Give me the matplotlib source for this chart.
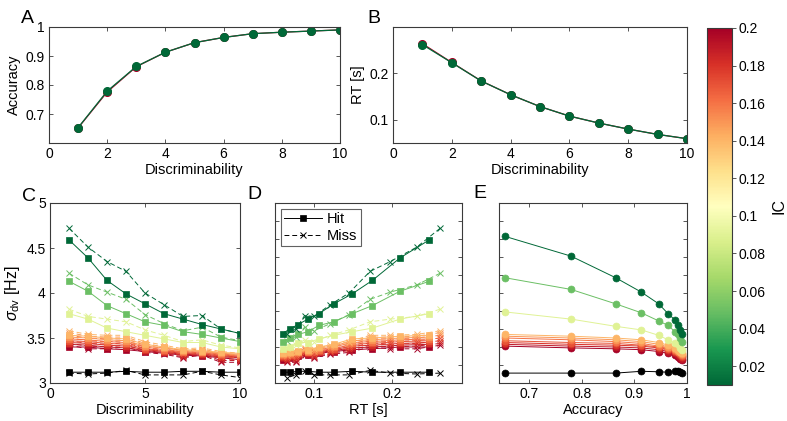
import matplotlib
matplotlib.use("Agg")
import matplotlib.pyplot as plt
import numpy as np
from matplotlib import cm, colors

plt.rcParams['font.family'] = ['Liberation Sans', 'DejaVu Sans']
plt.rcParams['mathtext.fontset'] = 'custom'
plt.rcParams['mathtext.rm'] = 'Liberation Sans'
plt.rcParams['mathtext.it'] = 'Liberation Sans:italic'

# ---------------- data ----------------
discriminability = [1, 2, 3, 4, 5, 6, 7, 8, 9, 10]
accuracy = [0.653, 0.779, 0.864, 0.913, 0.946, 0.964, 0.977, 0.982, 0.986, 0.990]
accuracy_high_ic = [0.652, 0.776, 0.863, 0.913, 0.946, 0.964, 0.977, 0.982, 0.986, 0.990]
rt = [0.262, 0.223, 0.1835, 0.154, 0.1285, 0.108, 0.093, 0.080, 0.0685, 0.0593]
rt_high_ic = [0.264, 0.2235, 0.1838, 0.154, 0.1285, 0.108, 0.093, 0.080, 0.0685, 0.0593]
rt_hit = [0.248, 0.2105, 0.175, 0.149, 0.1255, 0.1064, 0.0923, 0.0796, 0.069, 0.0597]
rt_miss = [0.262, 0.232, 0.198, 0.172, 0.145, 0.121, 0.100, 0.088, 0.077, 0.066]

ic_values = [0.01, 0.05, 0.09, 0.14, 0.15, 0.16, 0.17, 0.18, 0.19, 0.20]

sigma_hit = [
    [4.59, 4.39, 4.14, 3.99, 3.88, 3.77, 3.71, 3.65, 3.60, 3.55],
    [4.13, 4.02, 3.86, 3.77, 3.68, 3.64, 3.57, 3.54, 3.50, 3.46],
    [3.77, 3.71, 3.61, 3.57, 3.53, 3.49, 3.45, 3.45, 3.40, 3.38],
    [3.53, 3.52, 3.50, 3.49, 3.43, 3.40, 3.37, 3.36, 3.34, 3.33],
    [3.51, 3.50, 3.48, 3.47, 3.41, 3.39, 3.36, 3.35, 3.33, 3.32],
    [3.49, 3.48, 3.46, 3.45, 3.40, 3.37, 3.35, 3.34, 3.32, 3.31],
    [3.47, 3.46, 3.44, 3.43, 3.38, 3.36, 3.34, 3.33, 3.31, 3.30],
    [3.45, 3.44, 3.42, 3.41, 3.37, 3.35, 3.33, 3.32, 3.30, 3.29],
    [3.43, 3.42, 3.40, 3.39, 3.36, 3.34, 3.32, 3.31, 3.29, 3.28],
    [3.40, 3.40, 3.38, 3.37, 3.35, 3.33, 3.31, 3.30, 3.28, 3.26],
]
sigma_miss = [
    [4.72, 4.51, 4.35, 4.24, 4.00, 3.87, 3.74, 3.75, 3.60, 3.55],
    [4.22, 4.09, 4.01, 3.93, 3.76, 3.66, 3.58, 3.62, 3.51, 3.47],
    [3.82, 3.74, 3.71, 3.68, 3.59, 3.53, 3.46, 3.48, 3.42, 3.39],
    [3.58, 3.54, 3.53, 3.53, 3.46, 3.42, 3.38, 3.39, 3.35, 3.33],
    [3.56, 3.52, 3.51, 3.51, 3.44, 3.40, 3.36, 3.38, 3.33, 3.31],
    [3.53, 3.50, 3.49, 3.49, 3.42, 3.38, 3.34, 3.37, 3.31, 3.30],
    [3.50, 3.47, 3.46, 3.47, 3.40, 3.36, 3.32, 3.35, 3.29, 3.28],
    [3.47, 3.44, 3.43, 3.45, 3.38, 3.35, 3.30, 3.34, 3.27, 3.26],
    [3.44, 3.41, 3.40, 3.42, 3.36, 3.33, 3.29, 3.32, 3.25, 3.25],
    [3.42, 3.38, 3.38, 3.40, 3.34, 3.32, 3.28, 3.31, 3.23, 3.23],
]
sigma_all = [
    [4.63, 4.41, 4.17, 4.01, 3.88, 3.77, 3.70, 3.65, 3.59, 3.55],
    [4.17, 4.04, 3.88, 3.78, 3.69, 3.64, 3.57, 3.55, 3.50, 3.46],
    [3.79, 3.71, 3.63, 3.59, 3.53, 3.48, 3.44, 3.43, 3.39, 3.37],
    [3.54, 3.52, 3.50, 3.48, 3.45, 3.42, 3.39, 3.37, 3.35, 3.33],
    [3.52, 3.50, 3.48, 3.46, 3.43, 3.40, 3.38, 3.36, 3.34, 3.32],
    [3.50, 3.48, 3.46, 3.44, 3.41, 3.39, 3.37, 3.35, 3.33, 3.31],
    [3.47, 3.45, 3.44, 3.42, 3.40, 3.38, 3.36, 3.34, 3.32, 3.30],
    [3.45, 3.43, 3.42, 3.41, 3.39, 3.37, 3.35, 3.33, 3.31, 3.29],
    [3.43, 3.41, 3.40, 3.39, 3.37, 3.35, 3.33, 3.31, 3.29, 3.27],
    [3.41, 3.39, 3.38, 3.37, 3.35, 3.33, 3.31, 3.29, 3.27, 3.26],
]
control_hit = [3.12, 3.12, 3.12, 3.13, 3.12, 3.12, 3.13, 3.13, 3.12, 3.12]
control_miss = [3.11, 3.10, 3.11, 3.14, 3.09, 3.09, 3.09, 3.13, 3.09, 3.06]
control_all = [3.11, 3.11, 3.11, 3.13, 3.125, 3.12, 3.13, 3.13, 3.12, 3.115]

# ---------------- styling ----------------
W, H = 787, 421
fig = plt.figure(figsize=(W / 100, H / 100), dpi=100)

def rect(l, r, t, b):
    return [l / W, (H - b) / H, (r - l) / W, (b - t) / H]

cmap = plt.get_cmap('RdYlGn_r')
norm = colors.Normalize(vmin=0.01, vmax=0.2)
SPINE = '#3a3a3a'
TICK_FS = 10
LAB_FS = 10.5

def style(ax):
    for s in ax.spines.values():
        s.set_color(SPINE)
        s.set_linewidth(0.8)
    ax.tick_params(direction='in', top=True, right=True, length=3, width=0.6,
                   color=SPINE, labelsize=TICK_FS, pad=3)

def fmt(v):
    return ('%g' % v)

order = list(range(len(ic_values)))[::-1]  # draw red first, green on top

# ---------------- A ----------------
axA = fig.add_axes(rect(49, 340, 27, 143))
axA.plot(discriminability, accuracy_high_ic, '-o', color=cmap(norm(0.2)), ms=5.5, lw=0.9)
axA.plot(discriminability, accuracy, '-o', color=cmap(norm(0.01)), ms=5.5, lw=0.9)
axA.set_xlim(0, 10)
axA.set_ylim(0.6, 1.0)
axA.set_xticks([0, 2, 4, 6, 8, 10])
axA.set_yticks([0.7, 0.8, 0.9, 1.0])
axA.set_yticklabels([fmt(v) for v in [0.7, 0.8, 0.9, 1.0]])
axA.set_xlabel('Discriminability', fontsize=LAB_FS, labelpad=1)
axA.set_ylabel('Accuracy', fontsize=LAB_FS, labelpad=3)
style(axA)

# ---------------- B ----------------
axB = fig.add_axes(rect(393, 687, 27, 143))
axB.plot(discriminability, rt_high_ic, '-o', color=cmap(norm(0.2)), ms=5.5, lw=0.9)
axB.plot(discriminability, rt, '-o', color=cmap(norm(0.01)), ms=5.5, lw=0.9)
axB.set_xlim(0, 10)
axB.set_ylim(0.05, 0.3)
axB.set_xticks([0, 2, 4, 6, 8, 10])
axB.set_yticks([0.1, 0.2])
axB.set_yticklabels(['0.1', '0.2'])
axB.set_xlabel('Discriminability', fontsize=LAB_FS, labelpad=1)
axB.set_ylabel('RT [s]', fontsize=LAB_FS, labelpad=3)
style(axB)

DASH = (0, (5, 3))

# ---------------- C ----------------
axC = fig.add_axes(rect(50, 240, 203, 383))
for i in order:
    c = cmap(norm(ic_values[i]))
    axC.plot(discriminability, sigma_miss[i], marker='x', ls=DASH, color=c, ms=4, lw=0.7, mew=0.7)
    axC.plot(discriminability, sigma_hit[i], marker='s', ls='-', color=c, ms=4.2, lw=0.7, mew=0.5)
axC.plot(discriminability, control_miss, marker='x', ls=DASH, color='k', ms=4, lw=0.7, mew=0.7)
axC.plot(discriminability, control_hit, marker='s', ls='-', color='k', ms=4.2, lw=0.7, mew=0.5)
axC.set_xlim(0, 10)
axC.set_ylim(3, 5)
axC.set_xticks([0, 5, 10])
axC.set_yticks([3, 3.5, 4, 4.5, 5])
axC.set_yticklabels(['3', '3.5', '4', '4.5', '5'])
axC.set_xlabel('Discriminability', fontsize=LAB_FS, labelpad=1)
axC.set_ylabel(r'$\sigma_{\mathrm{dv}}$ [Hz]', fontsize=LAB_FS + 1, labelpad=3)
style(axC)

# ---------------- D ----------------
axD = fig.add_axes(rect(275, 462, 203, 383))
for i in order:
    c = cmap(norm(ic_values[i]))
    axD.plot(rt_miss, sigma_miss[i], marker='x', ls=DASH, color=c, ms=4, lw=0.7, mew=0.7)
    axD.plot(rt_hit, sigma_hit[i], marker='s', ls='-', color=c, ms=4.2, lw=0.7, mew=0.5)
hm, = axD.plot(rt_miss, control_miss, marker='x', ls=DASH, color='k', ms=4, lw=0.7, mew=0.7)
hh, = axD.plot(rt_hit, control_hit, marker='s', ls='-', color='k', ms=4.2, lw=0.7, mew=0.5)
axD.set_xlim(0.05, 0.29)
axD.set_ylim(3, 5)
axD.set_xticks([0.1, 0.2])
axD.set_xticklabels(['0.1', '0.2'])
axD.set_yticks(np.arange(3.2, 4.81, 0.2))
axD.set_yticklabels([])
axD.set_xlabel('RT [s]', fontsize=LAB_FS, labelpad=1)
style(axD)
leg = axD.legend([hh, hm], ['Hit', 'Miss'], loc='upper left', fontsize=10.5,
                 frameon=True, fancybox=False, handlelength=2.6, handletextpad=0.3,
                 borderpad=0.25, labelspacing=0.15, borderaxespad=0.4)
leg.get_frame().set_edgecolor(SPINE)
leg.get_frame().set_linewidth(0.8)

# ---------------- E ----------------
axE = fig.add_axes(rect(499, 687, 203, 383))
for i in order:
    c = cmap(norm(ic_values[i]))
    axE.plot(accuracy, sigma_all[i], marker='o', ls='-', color=c, ms=5, lw=0.7, mew=0.5)
axE.plot(accuracy, control_all, marker='o', ls='-', color='k', ms=5, lw=0.7, mew=0.5)
axE.set_xlim(0.642, 1.0)
axE.set_ylim(3, 5)
axE.set_xticks([0.7, 0.8, 0.9, 1.0])
axE.set_xticklabels(['0.7', '0.8', '0.9', '1'])
axE.set_yticks(np.arange(3.2, 4.81, 0.2))
axE.set_yticklabels([])
axE.set_xlabel('Accuracy', fontsize=LAB_FS, labelpad=1)
style(axE)

# ---------------- colorbar ----------------
cax = fig.add_axes(rect(707, 732, 28, 385))
sm = cm.ScalarMappable(norm=norm, cmap=cmap)
cb = fig.colorbar(sm, cax=cax)
cbt = [0.02, 0.04, 0.06, 0.08, 0.1, 0.12, 0.14, 0.16, 0.18, 0.2]
cb.set_ticks(cbt)
cb.set_ticklabels([fmt(v) for v in cbt])
cb.outline.set_edgecolor(SPINE)
cb.outline.set_linewidth(0.8)
cax.tick_params(direction='out', length=3, width=0.6, color=SPINE, labelsize=TICK_FS, pad=2)
cb.set_label('IC', fontsize=11.5, labelpad=4)

# ---------------- panel letters ----------------
for txt, x, y in [('A', 21, 23), ('B', 367, 23), ('C', 22, 201), ('D', 247, 199), ('E', 473, 198)]:
    fig.text(x / W, (H - y) / H, txt, fontsize=14, ha='left', va='baseline')

fig.savefig('out.png', dpi=100)
